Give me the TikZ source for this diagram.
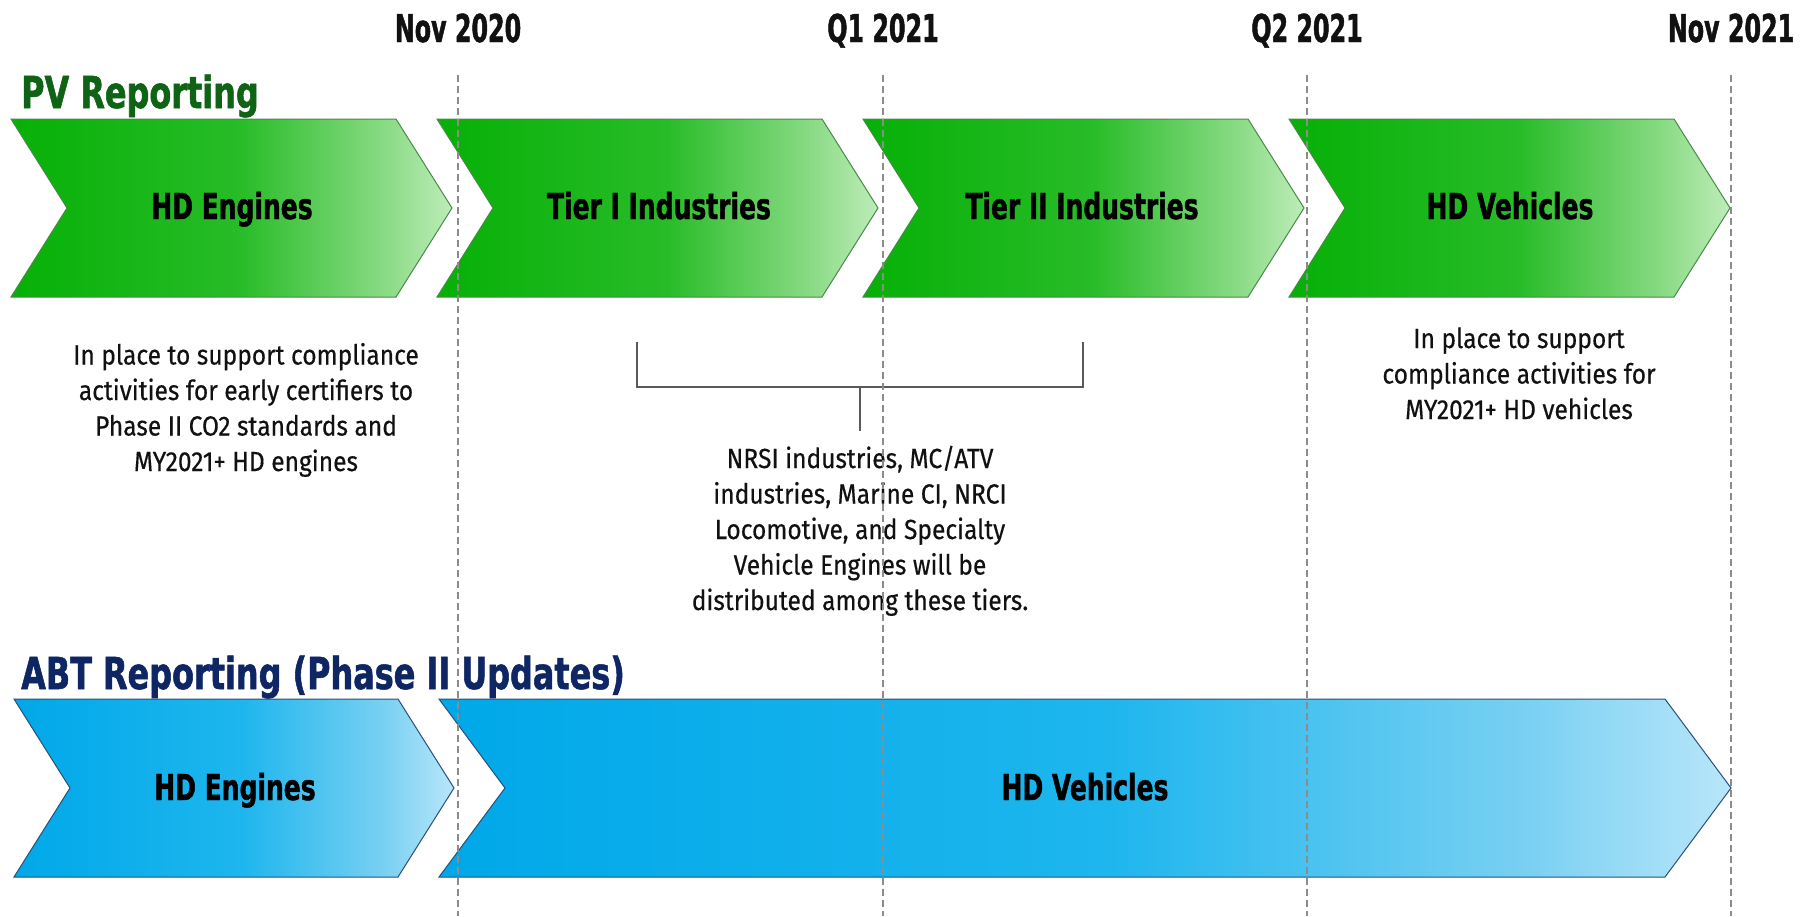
\documentclass[tikz,border=0pt]{standalone}
\usepackage{fontspec}
\newfontfamily\headfont[FakeStretch=0.70,FakeBold=1.2]{DejaVu Sans Bold}
\newfontfamily\titlefont[FakeStretch=0.725,FakeBold=1.2]{DejaVu Sans Bold}
\newfontfamily\datefont[FakeStretch=0.62,FakeBold=1.2]{DejaVu Sans Bold}
\newfontfamily\bodyfont[FakeStretch=0.89,FakeBold=0.4]{Fira Sans}
\definecolor{gA}{RGB}{6,176,6}
\definecolor{gB}{RGB}{40,188,40}
\definecolor{gC}{RGB}{135,218,130}
\definecolor{gD}{RGB}{190,236,185}
\definecolor{gedge}{RGB}{70,140,70}
\definecolor{bA}{RGB}{0,168,232}
\definecolor{bB}{RGB}{30,182,238}
\definecolor{bC}{RGB}{120,208,242}
\definecolor{bD}{RGB}{185,230,250}
\definecolor{bedge}{RGB}{40,80,120}
\definecolor{pvgreen}{RGB}{14,100,20}
\definecolor{abtnavy}{RGB}{14,38,100}
\definecolor{inkc}{RGB}{17,17,17}
\pgfdeclarehorizontalshading{greenfade}{100bp}{color(0bp)=(gA); color(25bp)=(gA); color(51bp)=(gB); color(67bp)=(gC); color(75bp)=(gD); color(100bp)=(gD)}
\pgfdeclarehorizontalshading{bluefade}{100bp}{color(0bp)=(bA); color(25bp)=(bA); color(51bp)=(bB); color(67bp)=(bC); color(75bp)=(bD); color(100bp)=(bD)}
\newcommand\mychev[6]{%
  \path[#1] (#2,#5) -- ({#3-#4},#5) -- (#3,{(#5+#6)/2}) -- ({#3-#4},#6) -- (#2,#6) -- ({#2+#4},{(#5+#6)/2}) -- cycle;}
\begin{document}
\begin{tikzpicture}[x=1pt,y=-1pt,
  dateS/.style={font=\datefont\fontsize{38.4}{40}\selectfont, text=inkc, anchor=base, inner sep=0pt},
  titleS/.style={font=\titlefont\fontsize{44}{46}\selectfont, anchor=base west, inner sep=0pt},
  chevlab/.style={font=\headfont\fontsize{35.7}{38}\selectfont, text=black, anchor=base, inner sep=0pt},
  note/.style={font=\bodyfont\fontsize{27.6}{35.5}\selectfont, align=center, anchor=base, inner sep=0pt, text=inkc},
  gline/.style={draw=gray!90, line width=2pt, dash pattern=on 7pt off 4pt},
  gchev/.style={shading=greenfade, draw=gedge, line width=1pt},
  bchev/.style={shading=bluefade, draw=bedge, line width=1pt},
  brack/.style={draw=black!65, line width=1.6pt}]
\useasboundingbox (0,0) rectangle (1812,916);
\fill[white] (0,0) rectangle (1812,916);

% green chevrons
\mychev{gchev}{11}{452}{56}{119}{297}
\mychev{gchev}{437}{878}{56}{119}{297}
\mychev{gchev}{863}{1304}{56}{119}{297}
\mychev{gchev}{1289}{1730}{56}{119}{297}
% blue chevrons
\mychev{bchev}{14}{454}{56}{699}{877}
\mychev{bchev}{439}{1731}{66}{699}{877}

% titles
\node[titleS, text=pvgreen] (pvt) at (21,108) {PV Reporting};
\node[titleS, text=abtnavy] (abtt) at (21,689) {ABT Reporting (Phase II Updates)};

% dates
\node[dateS] (d1) at (458,42) {Nov 2020};
\node[dateS] (d2) at (883,42) {Q1 2021};
\node[dateS] (d3) at (1307,42) {Q2 2021};
\node[dateS] (d4) at (1731,42) {Nov 2021};

% chevron labels
\node[chevlab] (g1) at (232,219) {HD Engines};
\node[chevlab] (g2) at (659,219) {Tier I Industries};
\node[chevlab] (g3) at (1082,219) {Tier II Industries};
\node[chevlab] (g4) at (1510,219) {HD Vehicles};
\node[chevlab] (b1) at (235,800) {HD Engines};
\node[chevlab] (b2) at (1085,800) {HD Vehicles};

% notes (base = last line)
\node[note] (n1) at (246,471) {In place to support compliance\\activities for early certifiers to\\Phase II CO2 standards and\\MY2021+ HD engines};
\node[note] (n2) at (860,610) {NRSI industries, MC/ATV\\industries, Marine CI, NRCI\\Locomotive, and Specialty\\Vehicle Engines will be\\distributed among these tiers.};
\node[note] (n3) at (1519,419) {In place to support\\compliance activities for\\MY2021+ HD vehicles};

% bracket
\coordinate (bl) at (637,342);
\coordinate (blb) at (637,387);
\coordinate (br) at (1083,342);
\coordinate (brb) at (1083,387);
\coordinate (st) at (860,387);
\coordinate (sb) at (860,431);
\draw[brack] (bl) -- (blb) -- (brb) -- (br);
\draw[brack] (st) -- (sb);

% dashed time lines
\foreach \i/\x in {1/458,2/883,3/1307,4/1731}{
  \coordinate (t\i) at (\x,75);
  \coordinate (u\i) at (\x,916);
  \draw[gline] (t\i) -- (u\i);
}
\end{tikzpicture}
\end{document}
